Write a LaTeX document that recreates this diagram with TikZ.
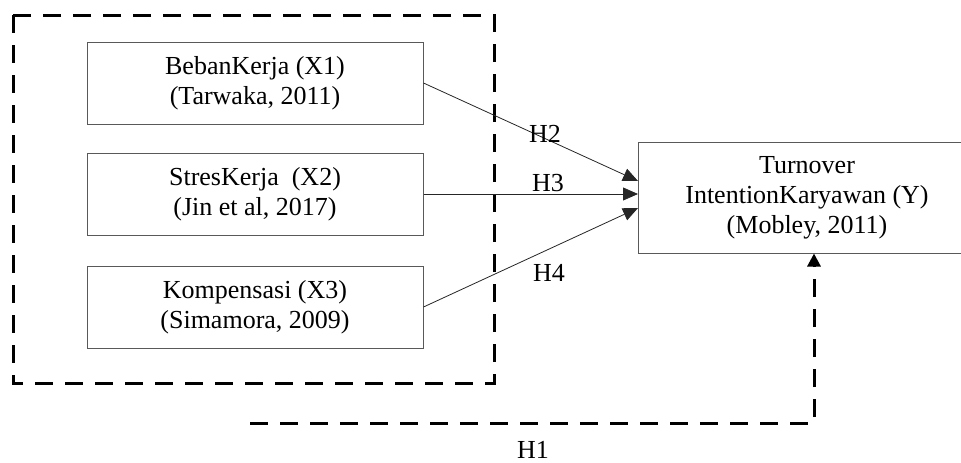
\documentclass[tikz,border=0pt]{standalone}
\usepackage{fontspec}
\setmainfont{Liberation Serif}
\usetikzlibrary{arrows.meta}
\tikzset{
  varbox/.style={draw=black!65, line width=1pt, rectangle, minimum width=336pt, minimum height=82pt, align=center, font=\fontsize{26}{30}\selectfont},
  hlink/.style={draw=black!85, line width=0.8pt, -{Triangle[length=15pt,width=13pt]}},
  hdash/.style={line width=3pt, dash pattern=on 18pt off 12pt},
  hlabel/.style={font=\fontsize{26}{30}\selectfont}
}
\newcommand{\varbox}[4]{\node[varbox] (#1) at (#2,#3) {#4};}
\newcommand{\hlink}[2]{\draw[hlink] (#1) -- (#2);}

\begin{document}
\begin{tikzpicture}[x=1pt,y=-1pt]
    \useasboundingbox (0,0) rectangle (961,463);
    \clip (0,0) rectangle (961,463);
    % independent variables
    \varbox{X1}{255}{83}{BebanKerja (X1)\\(Tarwaka, 2011)}
    \varbox{X2}{255}{194}{StresKerja\ \ (X2)\\(Jin et al, 2017)}
    \varbox{X3}{255}{307}{Kompensasi (X3)\\(Simamora, 2009)}
    \draw[hdash] (13,15) rectangle (494,383);
    % dependent variable
    \node[varbox, minimum width=338pt, minimum height=111pt] (Y) at (807,197.5) {Turnover\\IntentionKaryawan (Y)\\(Mobley, 2011)};
    \coordinate (inH2) at (638,181); \coordinate (inH3) at (638,194); \coordinate (inH4) at (638,208);
    \hlink{X1.east}{inH2} \hlink{X2.east}{inH3} \hlink{X3.east}{inH4}
    \node[hlabel] (H2) at (545,134) {H2};
    \node[hlabel] (H3) at (548,183) {H3};
    \node[hlabel] (H4) at (549,273) {H4};
    % H1 path
    \coordinate (h1start) at (250,423); \coordinate (h1corner) at (814,423);
    \draw[hdash, -{Triangle[length=13pt,width=13pt]}] (h1start) -- (h1corner) -- (h1corner |- Y.south);
    \node[hlabel] (H1) at (533,450) {H1};
\end{tikzpicture}
\end{document}
